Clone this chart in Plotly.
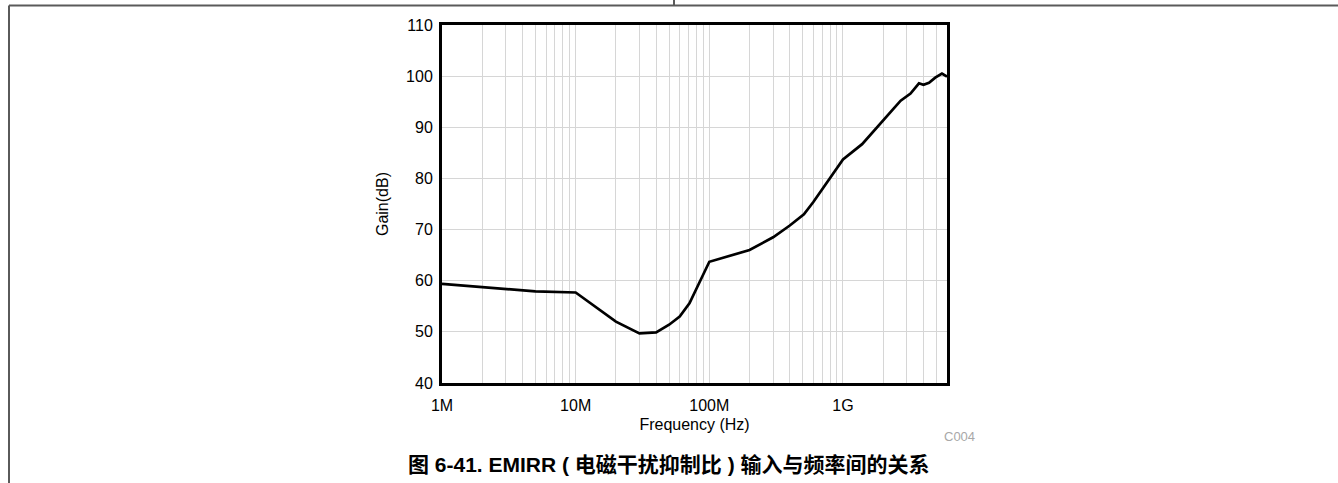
import numpy as np
import plotly.graph_objects as go

# EMIRR curve
freq_hz = [1e6, 5e6, 10e6, 20e6, 30e6, 40e6, 50e6, 60e6, 71e6, 100e6,
           200e6, 300e6, 400e6, 510e6, 600e6, 710e6, 830e6, 1.0e9, 1.39e9,
           1.8e9, 2.0e9, 2.4e9, 2.7e9, 3.2e9, 3.7e9, 4.0e9, 4.4e9, 4.9e9,
           5.5e9, 6.0e9]
gain_db = [59.4, 57.9, 57.7, 52.0, 49.7, 49.9, 51.4, 53.0, 55.6, 63.7,
           66.0, 68.5, 70.8, 73.0, 75.4, 78.1, 80.7, 83.7, 86.7,
           90.1, 91.4, 93.7, 95.2, 96.6, 98.6, 98.3, 98.7, 99.7,
           100.5, 99.9]

decades = [1e6, 1e7, 1e8, 1e9]
decade_labels = ["1M", "10M", "100M", "1G"]
y_ticks = [40, 50, 60, 70, 80, 90, 100, 110]

W, H = 1338, 483
L, R, T, B = 442, 391, 25, 100
pw, ph = W - L - R, H - T - B


def px_x(p):
    return (p - L) / pw


def px_y(p):
    return (H - B - p) / ph


# every 1..9 in each decade carries a grid line, only decades get a label
grid_vals, grid_text = [], []
for d, lab in zip(decades, decade_labels):
    for k in range(1, 10):
        v = d * k
        if v <= 6e9:
            grid_vals.append(v)
            grid_text.append(lab if k == 1 else "")

fig = go.Figure()
fig.add_trace(go.Scatter(
    x=freq_hz, y=gain_db, mode="lines",
    line=dict(color="black", width=2.7),
    showlegend=False, hoverinfo="skip",
))

axis_font = dict(family="Liberation Sans, Arial, sans-serif", size=16, color="black")

fig.update_xaxes(
    type="log", range=[6, np.log10(6e9)],
    tickvals=grid_vals, ticktext=grid_text, tickfont=axis_font,
    showgrid=True, gridcolor="#d6d6d6", gridwidth=1,
    showline=True, linecolor="black", linewidth=3, mirror=True,
    ticks="", zeroline=False, ticklabelstandoff=6,
    title=dict(text="Frequency (Hz)", font=axis_font, standoff=6),
)
fig.update_yaxes(
    range=[40, 110], tickvals=y_ticks, tickfont=axis_font,
    showgrid=True, gridcolor="#d6d6d6", gridwidth=1,
    showline=True, linecolor="black", linewidth=3, mirror=True,
    ticks="", zeroline=False, ticklabelstandoff=3,
    title=dict(text="Gain(dB)", font=axis_font, standoff=14),
)

line_style = dict(color="#5a5a5a", width=2)
shapes = [
    dict(type="line", xref="paper", yref="paper", x0=px_x(9), x1=px_x(W),
         y0=px_y(5.5), y1=px_y(5.5), line=line_style),
    dict(type="line", xref="paper", yref="paper", x0=px_x(9), x1=px_x(9),
         y0=px_y(5.5), y1=px_y(H), line=line_style),
    dict(type="line", xref="paper", yref="paper", x0=px_x(674), x1=px_x(674),
         y0=px_y(0), y1=px_y(5.5), line=line_style),
]

annotations = [
    dict(text="C004", xref="paper", yref="paper", x=px_x(959), y=px_y(436),
         xanchor="center", yanchor="middle", showarrow=False,
         font=dict(family="Liberation Sans, Arial", size=13, color="#a8a8a8")),
    dict(text="<b>图 6-41. EMIRR ( 电磁干扰抑制比 ) 输入与频率间的关系</b>",
         xref="paper", yref="paper", x=px_x(669), y=px_y(464),
         xanchor="center", yanchor="middle", showarrow=False,
         font=dict(family="Liberation Sans, Noto Sans CJK SC, sans-serif", size=21, color="black")),
]

fig.update_layout(
    width=W, height=H,
    margin=dict(l=L, r=R, t=T, b=B),
    paper_bgcolor="white", plot_bgcolor="white",
    shapes=shapes, annotations=annotations,
)

fig.write_html("out.html", config={"displayModeBar": False},
               post_script="document.body.style.margin='0';")
